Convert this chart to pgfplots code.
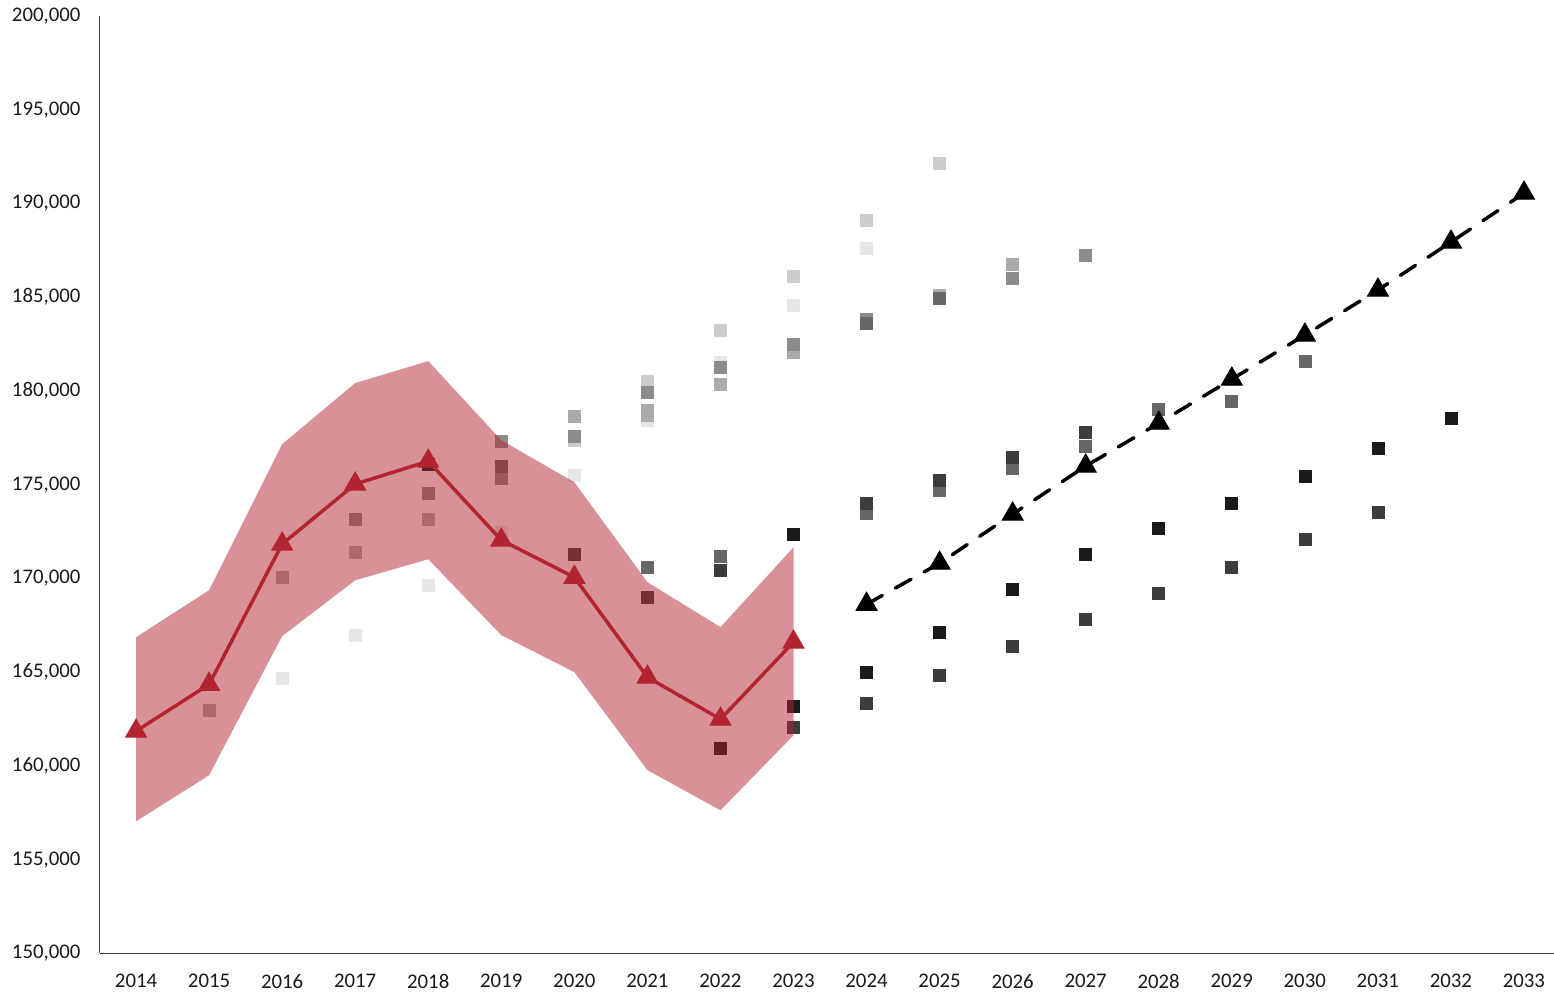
\documentclass[border=0pt]{standalone}
\usepackage{pgfplots}
\pgfplotsset{compat=1.18}
\usepackage{fontspec}
\setmainfont{Carlito}
\definecolor{redline}{HTML}{B22430}
\definecolor{gA}{HTML}{E6E6E6}
\definecolor{gB}{HTML}{CCCCCC}
\definecolor{gC}{HTML}{ABABAB}
\definecolor{gD}{HTML}{8C8C8C}
\definecolor{gE}{HTML}{666666}
\definecolor{gF}{HTML}{3C3C3C}
\definecolor{gG}{HTML}{1A1A1A}
\begin{document}
\begin{tikzpicture}
\begin{axis}[
  scale only axis,
  width=727pt, height=468.5pt,
  xmin=2013.5, xmax=2033.41,
  ymin=150000, ymax=200000,
  axis x line=bottom, axis y line=left,
  axis line style={draw=black!75, line width=0.8pt, -},
  xtick={2014,...,2033},
  ytick={150000,155000,...,200000},
  major tick length=0pt,
  tick style={draw=none},
  font=\fontsize{10.4}{12}\selectfont,
  tick label style={text=black!90},
  /pgf/number format/assume math mode=true,
  yticklabel style={/pgf/number format/.cd, fixed, 1000 sep={,}, /tikz/.cd, xshift=-6pt},
  xticklabel style={/pgf/number format/.cd, 1000 sep={}, /tikz/.cd, yshift=-7pt},
  scaled y ticks=false,
  clip=false,
  clip marker paths=true,
]
% grey squares
\addplot[gA, only marks, mark=square*, mark size=3pt] coordinates {
 (2016,164670)(2017,166970)(2018,169640)(2019,172470)(2020,175510)(2021,178450)(2022,181540)(2023,184580)(2024,187620)};
\addplot[gB, only marks, mark=square*, mark size=3pt] coordinates {
 (2020,177370)(2021,180520)(2022,183240)(2023,186130)(2024,189110)(2025,192160)};
\addplot[gC, only marks, mark=square*, mark size=3pt] coordinates {
 (2015,162970)(2016,170060)(2017,171400)(2018,173160)(2020,178660)(2021,178980)(2021,178700)(2022,180360)(2023,182070)(2025,185110)(2026,186770)};
\addplot[gD, only marks, mark=square*, mark size=3pt] coordinates {
 (2017,173160)(2018,174550)(2019,175350)(2019,177320)(2020,177590)(2021,179940)(2022,181270)(2023,182500)(2024,183800)(2026,186020)(2027,187250)};
\addplot[gE, only marks, mark=square*, mark size=3pt] coordinates {
 (2019,175990)(2021,170600)(2022,171180)(2024,183620)(2024,173470)(2025,184950)(2025,174710)(2026,175880)(2027,177050)(2028,179030)(2029,179460)(2030,181590)};
\addplot[gF, only marks, mark=square*, mark size=3pt] coordinates {
 (2020,171290)(2021,169000)(2022,170440)(2023,162060)(2024,174010)(2024,163340)(2025,175240)(2025,164830)(2026,176470)(2026,166380)(2027,177800)(2027,167820)(2028,169210)(2029,170600)(2030,172090)(2031,173530)};
\addplot[gG, only marks, mark=square*, mark size=3pt] coordinates {
 (2018,176100)(2022,160940)(2023,172360)(2023,163180)(2024,165000)(2025,167130)(2026,169420)(2027,171290)(2028,172680)(2029,174010)(2030,175450)(2031,176950)(2032,178550)};
% band
\addplot[draw=none, fill=redline, fill opacity=0.5] coordinates {
 (2014,166860)(2015,169370)(2016,177160)(2017,180420)(2018,181590)(2019,177370)(2020,175130)(2021,169800)(2022,167400)(2023,171660)
 (2023,161630)(2022,157630)(2021,159770)(2020,165000)(2019,166970)(2018,171020)(2017,169900)(2016,166920)(2015,159500)(2014,157040)} -- cycle;
% historical line
\addplot[redline, line width=1.75pt, mark=triangle*, mark size=6pt, mark options={solid, fill=redline, draw=redline, line width=0.5pt}] coordinates {
 (2014,161850)(2015,164350)(2016,171830)(2017,175030)(2018,176250)(2019,172040)(2020,170060)(2021,164730)(2022,162490)(2023,166600)};
% projection
\addplot[black, line width=1.75pt, line cap=round, dash pattern=on 9pt off 7.5pt, mark=triangle*, mark size=6pt, mark options={solid, fill=black, line width=0.5pt}] coordinates {
 (2024,168620)(2025,170810)(2026,173430)(2027,175990)(2028,178280)(2029,180630)(2030,182980)(2031,185380)(2032,187940)(2033,190550)};
\end{axis}
\pgfresetboundingbox
\useasboundingbox ([xshift=-49.75pt, yshift=-19.5pt]current axis.south west) rectangle ([yshift=8pt]current axis.north east);
\end{tikzpicture}
\end{document}
